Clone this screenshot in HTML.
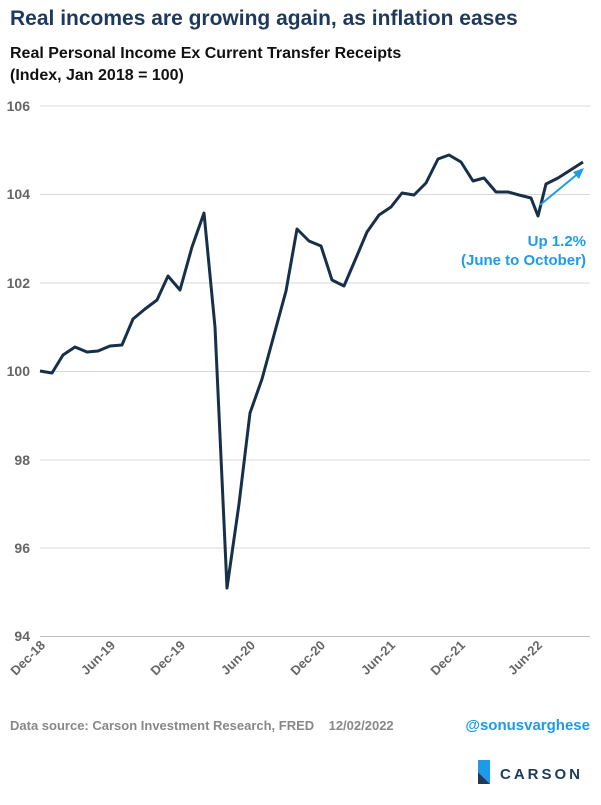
<!DOCTYPE html>
<html><head><meta charset="utf-8"><style>
body{margin:0;width:601px;height:800px;background:#fff;font-family:"Liberation Sans",Arial,sans-serif;overflow:hidden}
</style></head><body>
<svg width="601" height="800" xmlns="http://www.w3.org/2000/svg" font-family="Liberation Sans, Arial, sans-serif">
<text x="10" y="25" font-size="21" font-weight="bold" fill="#1d3a5c">Real incomes are growing again, as inflation eases</text>
<text x="10" y="58" font-size="16" font-weight="bold" fill="#111">Real Personal Income Ex Current Transfer Receipts</text>
<text x="10" y="80" font-size="16" font-weight="bold" fill="#111">(Index, Jan 2018 = 100)</text>
<g stroke="#d9d9d9" stroke-width="1">
<line x1="40" y1="106" x2="590" y2="106"/><line x1="40" y1="194.5" x2="590" y2="194.5"/><line x1="40" y1="283" x2="590" y2="283"/><line x1="40" y1="371.5" x2="590" y2="371.5"/><line x1="40" y1="460" x2="590" y2="460"/><line x1="40" y1="548" x2="590" y2="548"/>
</g>
<line x1="40" y1="636.5" x2="590" y2="636.5" stroke="#bfbfbf"/>
<g font-size="14" font-weight="bold" fill="#666" text-anchor="end">
<text x="30" y="111">106</text><text x="30" y="199">104</text><text x="30" y="288">102</text><text x="30" y="376">100</text><text x="30" y="465">98</text><text x="30" y="553">96</text><text x="30" y="641">94</text>
</g>
<g font-size="13" font-weight="bold" fill="#666" text-anchor="end">
<text transform="translate(46,646) rotate(-45)">Dec-18</text>
<text transform="translate(116,646) rotate(-45)">Jun-19</text>
<text transform="translate(186,646) rotate(-45)">Dec-19</text>
<text transform="translate(256,646) rotate(-45)">Jun-20</text>
<text transform="translate(326,646) rotate(-45)">Dec-20</text>
<text transform="translate(396,646) rotate(-45)">Jun-21</text>
<text transform="translate(466,646) rotate(-45)">Dec-21</text>
<text transform="translate(543,646) rotate(-45)">Jun-22</text>
</g>
<polyline fill="none" stroke="#17304a" stroke-width="3" stroke-linejoin="round" points="40,371 52,373 63,355 75,347 87,352 98,351 110,346 122,345 133,319 145,309 157,300 168,276 180,290 192,247 204,213 215,327 227,588 239,504 250,413 262,379 274,335 286,291 297,229 309,241 321,246 332,280 344,286 356,258 367,232 379,215 391,207 402,193 414,195 426,183 438,159 449,155 461,162 473,181 484,178 496,192 508,192 519,195 531,198 538,216 546,184 558,178 569,171 583,162"/>
<line x1="540" y1="205" x2="580" y2="172" stroke="#1e9be8" stroke-width="2"/>
<polygon points="584,168 573,172 579,179" fill="#1e9be8"/>
<text x="586" y="246" font-size="15" font-weight="bold" fill="#1e9be8" text-anchor="end">Up 1.2%</text>
<text x="586" y="265" font-size="15" font-weight="bold" fill="#1e9be8" text-anchor="end">(June to October)</text>
<text x="10" y="730" font-size="13" font-weight="bold" fill="#888" xml:space="preserve">Data source: Carson Investment Research, FRED    12/02/2022</text>
<text x="590" y="730" font-size="15" font-weight="bold" fill="#1e9be8" text-anchor="end">@sonusvarghese</text>
<polygon points="478,760 490,760 490,784 478,772" fill="#1e9be8"/>
<polygon points="478,772 490,784 478,784" fill="#1d3a5c"/>
<text x="500" y="779" font-size="15" font-weight="bold" fill="#1d3a5c" letter-spacing="3">CARSON</text>
</svg>
</body></html>
